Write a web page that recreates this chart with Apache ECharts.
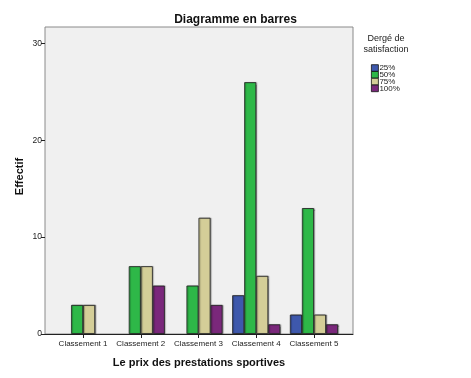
<!DOCTYPE html>
<html><head><meta charset="utf-8">
<script src="https://cdn.jsdelivr.net/npm/echarts@6/dist/echarts.min.js"></script>
<style>html,body{margin:0;padding:0;background:#fff}#c{width:471px;height:378px}</style>
</head><body><div id="c"></div>
<script>
const categories = ['Classement 1','Classement 2','Classement 3','Classement 4','Classement 5'];
const seriesNames = ['25%','50%','75%','100%'];
const v25 = [0, 0, 0, 4, 2];
const v50 = [3, 7, 5, 26, 13];
const v75 = [3, 7, 12, 6, 2];
const v100 = [0, 5, 3, 1, 1];
const colors = ['#3e58ac','#2eb848','#d4ce98','#7a287b'];
const yTicks = [0, 10, 20, 30];

const FONT = 'Liberation Sans, Arial, sans-serif';
const YMAX = 31.7;
const values = [v25, v50, v75, v100];

const chart = echarts.init(document.getElementById('c'));
chart.setOption({
  animation: false,
  backgroundColor: '#fff',
  title: [
    {text: 'Diagramme en barres', left: 'center', top: 9,
     textStyle: {fontFamily: FONT, fontSize: 12, fontWeight: 'bold', color: '#111'}},
    {text: 'Dergé de\nsatisfaction', left: 381, top: 28, textAlign: 'center',
     textStyle: {fontFamily: FONT, fontSize: 9, fontWeight: 'normal', color: '#222', lineHeight: 11}}
  ],
  legend: {
    orient: 'vertical', left: 366, top: 59,
    itemWidth: 7, itemHeight: 6.6, itemGap: -1.2,
    icon: 'rect',
    data: seriesNames,
    textStyle: {fontFamily: FONT, fontSize: 8, color: '#222', padding: [0,0,0,-4]},
    itemStyle: {borderColor: '#111', borderWidth: 0.8}
  },
  grid: [
    {left: 45, top: 27, width: 308, height: 307, show: true, backgroundColor: '#f0f0f0',
     borderColor: '#8a8a8a', borderWidth: 1},
    {left: 54.2, top: 27, width: 288.6, height: 307}
  ],
  xAxis: [
    {type: 'value', gridIndex: 0, min: 0, max: 1, show: true,
     axisLine: {show: true, lineStyle: {color: '#222', width: 1}},
     axisTick: {show: false}, axisLabel: {show: false}, splitLine: {show: false},
     name: 'Le prix des prestations sportives', nameLocation: 'middle', nameGap: 23,
     nameTextStyle: {fontFamily: FONT, fontSize: 11, fontWeight: 'bold', color: '#111'}},
    {type: 'category', gridIndex: 1, data: categories,
     axisLine: {show: false},
     axisTick: {show: true, alignWithLabel: true, interval: 0, length: 4, lineStyle: {color: '#222'}},
     axisLabel: {fontFamily: FONT, fontSize: 8, color: '#222', margin: 6, interval: 0}}
  ],
  yAxis: [
    {type: 'value', gridIndex: 0, min: 0, max: YMAX,
     axisLine: {show: false},
     axisTick: {show: true, length: 4, customValues: yTicks, lineStyle: {color: '#222'}},
     axisLabel: {fontFamily: FONT, fontSize: 8.5, color: '#222', margin: 3, customValues: yTicks},
     splitLine: {show: false},
     name: 'Effectif', nameLocation: 'middle', nameGap: 20, nameRotate: 90, nameMoveOverlap: false,
     nameTextStyle: {fontFamily: FONT, fontSize: 11, fontWeight: 'bold', color: '#111', padding: [0,0,0,8]}},
    {type: 'value', gridIndex: 1, min: 0, max: YMAX, show: false}
  ],
  series: seriesNames.map((n, i) => ({
    name: n, type: 'bar', xAxisIndex: 1, yAxisIndex: 1,
    data: values[i].map(v => v === 0 ? '-' : v),
    barGap: '0%', barCategoryGap: '16.7%',
    itemStyle: {color: colors[i], borderColor: '#222', borderWidth: 0.8,
      shadowColor: 'rgba(0,0,0,0.35)', shadowOffsetX: 1, shadowOffsetY: 0, shadowBlur: 1}
  }))
});
</script></body></html>
